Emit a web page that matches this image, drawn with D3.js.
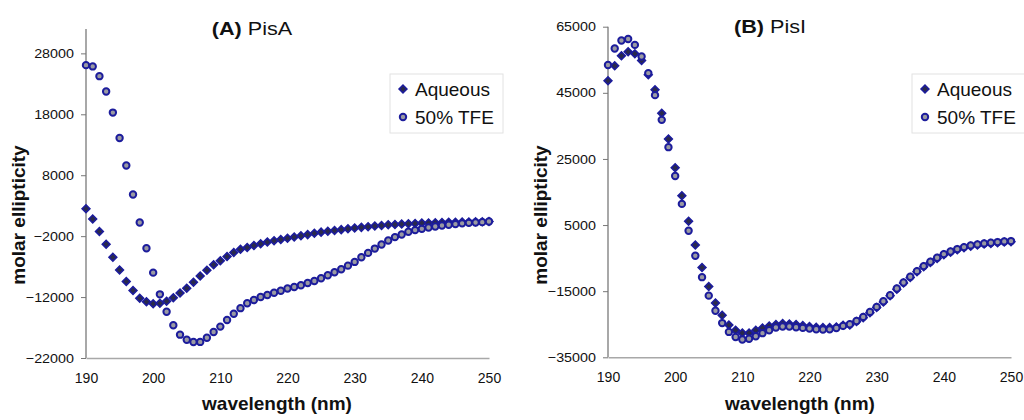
<!DOCTYPE html>
<html>
<head>
<meta charset="utf-8">
<script src="https://cdn.jsdelivr.net/npm/d3@7"></script>
<style>
  body { margin: 0; background: #fff; }
  svg { display: block; }
  svg text { font-family: "Liberation Sans", Arial, sans-serif; }
</style>
</head>
<body>
<div id="chart"></div>
<script>
/* wavelengths (nm) */
var wavelengths = [190,191,192,193,194,195,196,197,198,199,200,201,202,203,204,205,206,207,208,209,
  210,211,212,213,214,215,216,217,218,219,220,221,222,223,224,225,226,227,228,229,
  230,231,232,233,234,235,236,237,238,239,240,241,242,243,244,245,246,247,248,249,250];

/* (A) PisA */
var pisaAqueous = [2500,800,-1240,-3320,-5460,-7550,-9430,-10920,-12180,-12780,-13100,-13020,-12700,-12110,-11320,-10540,-9560,-8550,-7580,-6700,
  -6050,-5360,-4670,-4170,-3860,-3540,-3250,-2980,-2750,-2540,-2350,-2150,-1950,-1750,-1540,-1340,-1200,-1060,-930,-800,
  -680,-560,-450,-340,-240,-140,-80,-20,40,90,140,170,200,230,270,300,320,340,360,380,400];
var pisaTFE = [26070,25860,24260,21740,18280,14100,9600,4830,240,-3980,-7990,-11550,-14400,-16630,-18170,-19000,-19380,-19360,-18680,-17730,
  -16850,-15760,-14740,-13820,-13020,-12490,-12000,-11670,-11290,-10960,-10600,-10350,-10070,-9690,-9360,-8920,-8430,-7930,-7440,-6840,
  -6230,-5460,-4750,-4040,-3380,-2720,-2160,-1740,-1290,-1010,-800,-580,-420,-250,-140,-20,100,180,240,300,400];

/* (B) PisI */
var pisiAqueous = [48640,53180,56210,57420,56810,54780,50500,45900,38850,31060,22360,13880,6120,-1060,-7820,-13570,-18540,-22300,-25200,-26820,
  -27630,-27630,-26820,-26110,-25500,-25100,-24800,-24900,-25100,-25400,-25700,-25900,-26000,-26000,-25800,-25300,-25200,-24200,-23000,-21500,
  -19950,-18250,-16400,-14400,-12550,-10850,-9150,-7600,-6300,-5100,-4000,-3200,-2500,-1900,-1400,-1050,-750,-550,-350,-150,-50];
var pisiTFE = [53400,58420,60840,61260,59500,56000,50960,44300,36820,28560,19850,11400,3280,-4290,-10760,-16350,-20900,-24650,-27320,-28840,
  -29600,-29400,-28630,-27700,-26820,-26000,-25700,-25700,-25900,-26100,-26300,-26500,-26600,-26550,-26150,-25500,-25000,-24000,-22780,-21270,
  -19750,-18030,-16210,-14190,-12370,-10650,-8940,-7420,-6110,-4900,-3790,-2980,-2270,-1670,-1150,-850,-550,-360,-150,50,150];

var seriesNames = ["Aqueous", "50% TFE"];
var xTicks = [190, 200, 210, 220, 230, 240, 250];
var pisaYTicks = [-22000, -12000, -2000, 8000, 18000, 28000];
var pisiYTicks = [-35000, -15000, 5000, 25000, 45000, 65000];

var width = 1024, height = 420;
var navy = "#1c1c9c";
var fontFam = "Liberation Sans, Arial, sans-serif";

var svg = d3.select("#chart").append("svg")
  .attr("width", width)
  .attr("height", height);

var diamond = d3.symbol().type(d3.symbolSquare).size(30);

function drawPanel(opts) {
  var x = d3.scaleLinear().domain([190, 250]).range([opts.left, opts.right]);
  var y = d3.scaleLinear().domain(opts.yDomain).range([opts.bottom, opts.top]);
  var g = svg.append("g");

  // y axis
  var yAxis = d3.axisLeft(y).tickValues(opts.yTicks).tickSize(5).tickPadding(6).tickFormat(d3.format("d"));
  var ya = g.append("g").attr("transform", "translate(" + opts.left + ",0)").call(yAxis)
    .attr("font-family", fontFam);
  ya.select(".domain").attr("stroke", "#a8a8a8").attr("stroke-width", 2).attr("d", "M0," + opts.bottom + "V" + opts.top);
  ya.selectAll(".tick line").attr("stroke", "#777");
  ya.selectAll("text").attr("font-size", 13).attr("fill", "#111")
    .attr("transform", "scale(1.1,1)");

  // x axis
  var xAxis = d3.axisBottom(x).tickValues(xTicks).tickSize(0).tickPadding(15);
  var xa = g.append("g").attr("transform", "translate(0," + opts.bottom + ")").call(xAxis)
    .attr("font-family", fontFam);
  xa.select(".domain").attr("stroke", "#a8a8a8").attr("stroke-width", 1.5);
  xa.selectAll("text").attr("font-size", 14).attr("fill", "#111");

  // series: aqueous first, TFE drawn on top
  g.append("g").selectAll("path").data(wavelengths)
    .enter().append("path")
    .attr("d", diamond)
    .attr("transform", function(d, i) {
      return "translate(" + x(d) + "," + y(opts.aqueous[i]) + ") rotate(45)";
    })
    .attr("fill", "#2a2a4a")
    .attr("stroke", navy)
    .attr("stroke-width", 1.6);

  g.append("g").selectAll("circle").data(wavelengths)
    .enter().append("circle")
    .attr("cx", function(d) { return x(d); })
    .attr("cy", function(d, i) { return y(opts.tfe[i]); })
    .attr("r", 3.2)
    .attr("fill", "#9a9aa2")
    .attr("stroke", navy)
    .attr("stroke-width", 2);

  // title
  var t = g.append("text")
    .attr("transform", "translate(" + opts.titleX + "," + opts.titleY + ") scale(1.2,1)")
    .attr("text-anchor", "middle")
    .attr("font-size", 18)
    .attr("fill", "#111");
  t.append("tspan").attr("font-weight", "bold").text(opts.titleBold);
  t.append("tspan").text(" " + opts.titleRest);

  // axis labels
  g.append("text")
    .attr("transform", "translate(" + opts.yLabelX + "," + opts.yLabelY + ") rotate(-90)")
    .attr("text-anchor", "middle")
    .attr("font-size", 19)
    .attr("font-weight", "bold")
    .attr("fill", "#111")
    .text("molar ellipticity");

  g.append("text")
    .attr("x", opts.xLabelX)
    .attr("y", 410)
    .attr("text-anchor", "middle")
    .attr("font-size", 19)
    .attr("font-weight", "bold")
    .attr("fill", "#111")
    .text("wavelength (nm)");

  // legend
  var lg = g.append("g").attr("transform", "translate(" + opts.legendX + "," + opts.legendY + ")");
  lg.append("rect")
    .attr("width", opts.legendW).attr("height", 59)
    .attr("fill", "#fff").attr("stroke", "#e2e2e2");
  lg.append("path")
    .attr("d", diamond)
    .attr("transform", "translate(13,15) rotate(45)")
    .attr("fill", "#2a2a4a").attr("stroke", navy).attr("stroke-width", 1.6);
  lg.append("circle")
    .attr("cx", 13).attr("cy", 43).attr("r", 3.2)
    .attr("fill", "#9a9aa2").attr("stroke", navy).attr("stroke-width", 2);
  lg.selectAll("text.lab").data(seriesNames)
    .enter().append("text")
    .attr("class", "lab")
    .attr("x", 25)
    .attr("y", function(d, i) { return 22 + i * 28; })
    .attr("font-size", 19)
    .attr("fill", "#111")
    .text(function(d) { return d; });
}

drawPanel({
  left: 86, right: 489, top: 29, bottom: 358,
  yDomain: [-22000, 32000], yTicks: pisaYTicks,
  aqueous: pisaAqueous, tfe: pisaTFE,
  titleBold: "(A)", titleRest: "PisA", titleX: 252, titleY: 35,
  yLabelX: 25, yLabelY: 215, xLabelX: 277,
  legendX: 390, legendY: 74, legendW: 113
});

drawPanel({
  left: 608, right: 1011, top: 26.7, bottom: 357.3,
  yDomain: [-35000, 65000], yTicks: pisiYTicks,
  aqueous: pisiAqueous, tfe: pisiTFE,
  titleBold: "(B)", titleRest: "PisI", titleX: 770, titleY: 33,
  yLabelX: 547, yLabelY: 215, xLabelX: 800,
  legendX: 912, legendY: 74, legendW: 120
});
</script>
</body>
</html>
